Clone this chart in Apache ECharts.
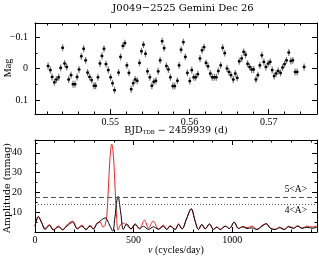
<!DOCTYPE html>
<html><head><meta charset="utf-8">
<script src="https://cdn.jsdelivr.net/npm/echarts@6/dist/echarts.min.js"></script>
<style>html,body{margin:0;padding:0;background:#fff}#c{width:319px;height:259px}</style>
</head><body><div id="c"></div><script>
// Light curve: BJD_TDB - 2459939 (d) and relative magnitude
const timeVals = [0.54215,0.54244,0.54266,0.54295,0.54320,0.54349,0.54374,0.54399,0.54424,0.54450,
0.54475,0.54505,0.54530,0.54555,0.54581,0.54606,0.54635,0.54664,0.54689,0.54714,
0.54739,0.54765,0.54795,0.54815,0.54845,0.54870,0.54895,0.54921,0.54946,0.54975,
0.55004,0.55029,0.55054,0.55105,0.55130,0.55160,0.55185,0.55210,0.55236,0.55264,
0.55290,0.55315,0.55340,0.55369,0.55394,0.55419,0.55445,0.55470,0.55500,0.55525,
0.55550,0.55576,0.55605,0.55630,0.55655,0.55680,0.55709,0.55734,0.55759,0.55790,
0.55815,0.55848,0.55869,0.55894,0.55923,0.55948,0.55974,0.56004,0.56029,0.56054,
0.56079,0.56105,0.56133,0.56159,0.56184,0.56209,0.56234,0.56263,0.56288,0.56314,
0.56339,0.56364,0.56394,0.56419,0.56445,0.56474,0.56499,0.56524,0.56553,0.56578,
0.56603,0.56628,0.56659,0.56684,0.56709,0.56734,0.56759,0.56785,0.56810,0.56839,
0.56864,0.56889,0.56914,0.56939,0.56965,0.56994,0.57019,0.57044,0.57069,0.57094,
0.57120,0.57150,0.57175,0.57200,0.57225,0.57254,0.57280,0.57305,0.57334,0.57359,
0.57447];
const magVals = [-0.008,0.005,0.027,0.044,0.035,0.028,-0.002,-0.066,-0.016,-0.005,
0.035,0.021,0.050,0.050,0.027,0.003,-0.039,-0.063,-0.026,0.013,
0.027,0.037,0.055,0.055,0.028,-0.016,-0.040,-0.063,-0.014,0.005,
0.028,0.047,0.069,0.013,-0.037,-0.072,-0.081,-0.010,0.014,0.066,
0.047,0.035,0.039,-0.018,-0.055,-0.076,-0.047,0.009,0.028,0.055,
0.042,0.039,0.009,-0.026,-0.087,-0.065,-0.008,0.003,0.028,0.056,
0.056,0.039,-0.010,-0.060,-0.084,-0.037,0.014,0.040,0.005,0.028,
0.028,0.018,-0.032,-0.058,-0.068,-0.018,-0.007,0.016,0.028,0.028,
0.028,0.008,-0.010,-0.066,-0.049,0.000,0.011,0.021,0.035,0.016,
0.030,-0.023,-0.032,-0.053,-0.044,-0.015,-0.005,0.003,0.003,0.035,
0.021,-0.010,-0.042,-0.021,-0.005,-0.016,-0.021,0.005,0.024,0.016,
0.008,0.014,-0.003,-0.014,-0.026,-0.051,-0.024,-0.026,0.011,0.011,
-0.005];
const magErr = [0.011,0.011,0.011,0.011,0.011,0.011,0.011,0.011,0.011,0.011,
0.011,0.011,0.011,0.011,0.011,0.011,0.011,0.011,0.011,0.011,
0.011,0.011,0.011,0.011,0.011,0.011,0.011,0.011,0.011,0.011,
0.011,0.011,0.011,0.011,0.011,0.011,0.011,0.011,0.011,0.011,
0.011,0.011,0.011,0.011,0.011,0.011,0.011,0.011,0.011,0.011,
0.011,0.011,0.011,0.011,0.011,0.011,0.011,0.011,0.011,0.011,
0.011,0.011,0.011,0.011,0.011,0.011,0.011,0.011,0.011,0.011,
0.011,0.011,0.011,0.011,0.011,0.011,0.011,0.011,0.011,0.011,
0.011,0.011,0.011,0.011,0.011,0.011,0.011,0.011,0.011,0.011,
0.011,0.011,0.011,0.011,0.011,0.011,0.011,0.011,0.011,0.011,
0.011,0.011,0.011,0.011,0.011,0.011,0.011,0.011,0.011,0.011,
0.011,0.011,0.011,0.011,0.011,0.011,0.011,0.011,0.011,0.011,
0.011];

// Periodogram (cycles/day, mmag)
const freqBlack = [0,17,34,51,73,93,119,140,161,191,215,237,259,279,296,313,330,355,381,394,406,421,435,448,465,487,508,530,550,575,601,626,
651,668,685,711,728,745,770,792,812,829,846,863,885,905,922,939,965,986,1010,1032,1054,1075,1100,1125,1151,1173,1193,1218,1240,1264,1286,1311,1332,1354,1379,1405,1430];
const ampBlack = [2.9,7.6,4.6,1.3,3.3,1.0,2.6,1.3,2.9,4.9,1.6,2.9,1.3,2.9,1.6,3.8,5.5,7.1,2.9,0.4,8.0,18.0,9.6,1.3,4.1,1.6,4.1,1.6,2.9,1.3,2.6,1.4,
2.9,1.3,2.9,1.3,3.8,1.6,7.1,11.8,5.5,1.3,3.8,1.6,4.1,1.3,2.4,1.3,2.9,1.8,4.9,1.8,2.6,1.8,2.1,1.3,2.9,4.1,1.9,1.3,2.1,1.3,2.6,1.9,2.9,1.9,2.4,1.9,2.4];
const freqRed = [0,17,34,51,73,93,119,140,165,191,215,237,259,279,296,313,330,345,355,364,372,380,389,398,406,414,421,430,445,465,487,508,530,555,575,600,626,
651,668,685,711,728,745,770,792,812,829,846,863,885,905,922,939,965,986,1010,1032,1054,1075,1100,1125,1151,1173,1193,1218,1240,1264,1286,1311,1332,1354,1379,1405,1430];
const ampRed = [3.2,8.0,4.8,1.8,3.8,1.2,3.0,1.0,4.0,5.5,1.8,3.5,1.0,3.5,1.5,4.5,5.0,2.5,3.5,8,22,37,44.5,38,22,7,1,3,4.5,3.5,1.5,3.5,2,6,2,5.5,1.5,
3.5,1.3,3.2,1.3,4.2,1.5,7,11.5,5.5,1.3,3.8,1.6,4,1.3,2.6,1.3,3,1.8,5.0,1.8,2.8,2.2,3.0,1.3,3.3,4.3,2,1.3,2.5,1.3,3,1.9,3.2,1.9,3,2.5,3];
const level5A = 17.8, level4A = 14.24;

// Tick values
const lcXMajor = [0.55,0.56,0.57];
const lcXMinor = [0.542,0.544,0.546,0.548,0.552,0.554,0.556,0.558,0.562,0.564,0.566,0.568,0.572,0.574];
const lcYMajor = [-0.1,0,0.1];
const lcYMinor = [-0.05,0.05];
const pgXMajor = [0,500,1000];
const pgXMinor = [100,200,300,400,600,700,800,900,1100,1200,1300,1400];
const pgYMajor = [0,10,20,30,40];
const pgYLabels = [10,20,30,40];
const pgYMinor = [5,15,25,35,45];

const FONT = 'Liberation Serif';
const FONT2 = 'DejaVu Serif';
const chart = echarts.init(document.getElementById('c'), null, {renderer:'canvas'});
const fmtMinus = v => String(Math.round(v*1000)/1000).replace('-', '\u2212');

function ax(gi, min, max, pos, ticks, len, line, labels, extra) {
  const o = {
    type:'value', gridIndex:gi, min:min, max:max, position:pos, scale:true,
    axisLine:{show:line, onZero:false, lineStyle:{color:'#000', width:1}},
    splitLine:{show:false},
    axisTick:{show:true, inside:true, length:len, customValues:ticks, lineStyle:{color:'#000', width:1}},
    axisLabel: labels ? Object.assign({show:true, customValues:labels, color:'#000', fontFamily:FONT, fontSize:10, formatter:fmtMinus}, extra||{}) : {show:false}
  };
  return o;
}

const LCX = [0.5405, 0.5761], LCY = [-0.145, 0.145], PGX = [0, 1430], PGY = [0, 46.5];

const option = {
  animation:false,
  grid:[
    {left:35, top:23, width:282, height:91},
    {left:35, top:140, width:282, height:92}
  ],
  xAxis:[
    ax(0, LCX[0], LCX[1], 'bottom', lcXMajor, 5, true, lcXMajor, {margin:3}),
    ax(0, LCX[0], LCX[1], 'bottom', lcXMinor, 2.5, false, null),
    ax(0, LCX[0], LCX[1], 'top', lcXMajor, 5, true, null),
    ax(0, LCX[0], LCX[1], 'top', lcXMinor, 2.5, false, null),
    ax(1, PGX[0], PGX[1], 'bottom', pgXMajor, 5, true, pgXMajor, {margin:3}),
    ax(1, PGX[0], PGX[1], 'bottom', pgXMinor, 2.5, false, null),
    ax(1, PGX[0], PGX[1], 'top', pgXMajor, 5, true, null),
    ax(1, PGX[0], PGX[1], 'top', pgXMinor, 2.5, false, null)
  ],
  yAxis:[
    Object.assign(ax(0, LCY[0], LCY[1], 'left', lcYMajor, 5, true, lcYMajor, {margin:7}), {inverse:true}),
    Object.assign(ax(0, LCY[0], LCY[1], 'left', lcYMinor, 2.5, false, null), {inverse:true}),
    Object.assign(ax(0, LCY[0], LCY[1], 'right', lcYMajor, 5, true, null), {inverse:true}),
    Object.assign(ax(0, LCY[0], LCY[1], 'right', lcYMinor, 2.5, false, null), {inverse:true}),
    ax(1, PGY[0], PGY[1], 'left', pgYMajor, 5, true, pgYLabels, {margin:13}),
    ax(1, PGY[0], PGY[1], 'left', pgYMinor, 2.5, false, null),
    ax(1, PGY[0], PGY[1], 'right', pgYMajor, 5, true, null),
    ax(1, PGY[0], PGY[1], 'right', pgYMinor, 2.5, false, null)
  ],
  series:[
    {
      type:'custom', xAxisIndex:0, yAxisIndex:0, clip:true,
      data: timeVals.map((t,i)=>[t, magVals[i], magErr[i]]),
      renderItem:function(params, api){
        const x = api.value(0), y = api.value(1), e = api.value(2);
        const p = api.coord([x,y]), lo = api.coord([x,y-e]), hi = api.coord([x,y+e]);
        return {type:'group', children:[
          {type:'line', shape:{x1:p[0], y1:lo[1], x2:p[0], y2:hi[1]}, style:{stroke:'#7a7a7a', lineWidth:1.2}},
          {type:'line', shape:{x1:p[0]-1.5, y1:p[1], x2:p[0]+1.5, y2:p[1]}, style:{stroke:'#333', lineWidth:1}},
          {type:'rect', shape:{x:p[0]-1.2, y:p[1]-1.2, width:2.4, height:2.4}, style:{fill:'#000'}}
        ]};
      }
    },
    {
      type:'line', xAxisIndex:4, yAxisIndex:4, data: freqRed.map((f,i)=>[f, ampRed[i]]),
      smooth:0.35, symbol:'none', lineStyle:{color:'#e8262a', width:1}, clip:true
    },
    {
      type:'line', xAxisIndex:4, yAxisIndex:4, data: freqBlack.map((f,i)=>[f, ampBlack[i]]),
      smooth:0.35, symbol:'none', lineStyle:{color:'#000', width:1}, clip:true,
      markLine:{
        silent:true, symbol:'none', animation:false,
        data:[
          {yAxis:level5A, lineStyle:{type:[5,3], color:'#555', width:1},
           label:{show:true, position:'insideEndTop', formatter:'5<A>', color:'#000', fontFamily:FONT, fontSize:9.5, distance:[10,2]}},
          {yAxis:level4A, lineStyle:{type:[1,2], color:'#555', width:1},
           label:{show:true, position:'insideEndBottom', formatter:'4<A>', color:'#000', fontFamily:FONT, fontSize:9.5, distance:[10,2]}}
        ]
      }
    }
  ],
  graphic:[
    {type:'text', x:183, y:3, style:{text:'J0049\u22122525 Gemini Dec 26', fontFamily:FONT2, fontSize:10, fill:'#000', align:'center', verticalAlign:'top'}},
    {type:'text', x:3, y:68, rotation:Math.PI/2, style:{text:'Mag', fontFamily:FONT, fontSize:10, fill:'#000', align:'center', verticalAlign:'top'}},
    {type:'text', x:3, y:188, rotation:Math.PI/2, style:{text:'Amplitude (mmag)', fontFamily:FONT2, fontSize:9.5, fill:'#000', align:'center', verticalAlign:'top'}},
    {type:'text', x:176, y:126, style:{text:'BJD{s|TDB} \u2212 2459939 (d)', fontFamily:FONT2, fontSize:9.5, fill:'#000', align:'center', verticalAlign:'top',
      rich:{s:{fontSize:5.5, fontFamily:FONT2, fill:'#000', verticalAlign:'bottom', padding:[4,0,0,0]}}}},
    {type:'text', x:176, y:245, style:{text:'{i|\u03bd} (cycles/day)', fontFamily:FONT, fontSize:10, fill:'#000', align:'center', verticalAlign:'top',
      rich:{i:{fontStyle:'italic', fontFamily:FONT, fontSize:10, fill:'#000'}}}}
  ]
};
chart.setOption(option);
</script></body></html>
